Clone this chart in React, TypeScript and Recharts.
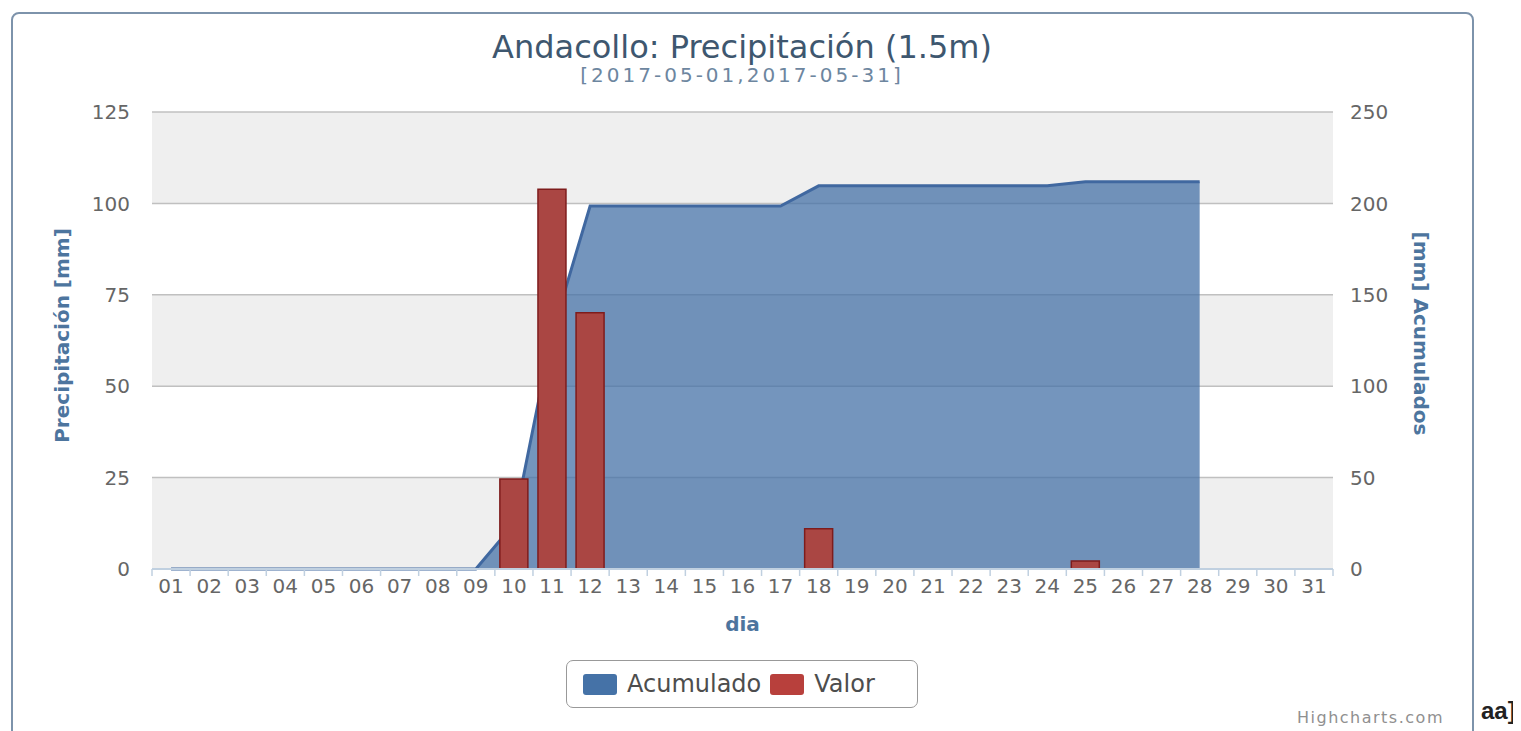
import React from 'react';
import { ComposedChart, Area, Bar, XAxis, YAxis, CartesianGrid } from 'recharts';

const DAYS = [
  '01', '02', '03', '04', '05', '06', '07', '08', '09', '10',
  '11', '12', '13', '14', '15', '16', '17', '18', '19', '20',
  '21', '22', '23', '24', '25', '26', '27', '28', '29', '30', '31'
];

// daily precipitation (mm), null = no bar
const VALOR = [
  null, null, null, null, null, null, null, null, null, 24.6,
  103.9, 70.1, null, null, null, null, null, 11.0, null, null,
  null, null, null, null, 2.2, null, null, null, null, null, null
];

// accumulated precipitation (mm), ends on day 28
const ACUMULADO = [
  0, 0, 0, 0, 0, 0, 0, 0, 0, 24.6,
  128.5, 198.6, 198.6, 198.6, 198.6, 198.6, 198.6, 209.6, 209.6, 209.6,
  209.6, 209.6, 209.6, 209.6, 211.8, 211.8, 211.8, 211.8, null, null, null
];

const LEFT_TICKS = [0, 25, 50, 75, 100, 125];
const RIGHT_TICKS = [0, 50, 100, 150, 200, 250];

const AREA_COLOR = '#4572A7';
const BAR_COLOR = '#AA4643';
const FONT = '"DejaVu Sans", Verdana, sans-serif';

const data = DAYS.map((dia, i) => ({ dia, valor: VALOR[i], acumulado: ACUMULADO[i] }));

function DayTick(props: any) {
  const { x, y, payload, index } = props;
  const half = payload.offset || 19;
  return (
    <g>
      <line x1={x - half} x2={x - half} y1={y} y2={y + 7} stroke="#C0D0E0" strokeWidth={1.5} />
      {index === DAYS.length - 1 && (
        <line x1={x + half} x2={x + half} y1={y} y2={y + 7} stroke="#C0D0E0" strokeWidth={1.5} />
      )}
      <text x={x} y={y + 24} textAnchor="middle" fill="#666" fontSize={20} fontFamily={FONT}>
        {payload.value}
      </text>
    </g>
  );
}

const titleStyle = { fill: '#4d759e', fontSize: 20, fontWeight: 'bold', fontFamily: FONT };

export default function App() {
  return (
    <div
      style={{
        position: 'relative',
        width: 1521,
        height: 731,
        margin: '-8px 0 0 -8px',
        overflow: 'hidden',
        background: '#fff',
        fontFamily: FONT
      }}
    >
      <div
        style={{
          position: 'absolute',
          left: 11,
          top: 12,
          width: 1459,
          height: 760,
          border: '2px solid #7d93ab',
          borderRadius: 8
        }}
      />
      <div style={{ position: 'absolute', left: 0, width: 1484, top: 28, textAlign: 'center', fontSize: 32, color: '#3E576F', lineHeight: '38px' }}>
        Andacollo: Precipitación (1.5m)
      </div>
      <div style={{ position: 'absolute', left: 0, width: 1484, top: 64, textAlign: 'center', fontSize: 20, letterSpacing: 3, color: '#6D869F', lineHeight: '22px' }}>
        [2017-05-01,2017-05-31]
      </div>

      <div style={{ position: 'absolute', left: 0, top: 0 }}>
        <ComposedChart
          width={1521}
          height={731}
          data={data}
          margin={{ top: 112, right: 108, bottom: 122, left: 72 }}
        >
          <CartesianGrid
            yAxisId="left"
            vertical={false}
            stroke="#C0C0C0"
            strokeWidth={1.5}
            horizontalFill={['#EFEFEF', '#FFFFFF']}
            fillOpacity={1}
          />
          <XAxis
            dataKey="dia"
            height={40}
            tickSize={0}
            tickMargin={0}
            interval={0}
            axisLine={{ stroke: '#C0D0E0', strokeWidth: 2 }}
            tickLine={false}
            tick={<DayTick />}
            label={({ viewBox }: any) => (
              <text x={viewBox.x + viewBox.width / 2} y={viewBox.y + 62} textAnchor="middle" style={titleStyle}>
                dia
              </text>
            )}
          />
          <YAxis
            yAxisId="left"
            width={80}
            domain={[0, 125]}
            ticks={LEFT_TICKS}
            axisLine={false}
            tickLine={false}
            tickMargin={16}
            tick={{ fill: '#666', fontSize: 20, fontFamily: FONT }}
            label={({ viewBox }: any) => {
              const cx = viewBox.x - 10;
              const cy = viewBox.y + viewBox.height / 2 - 5;
              return (
                <text x={cx} y={cy} textAnchor="middle" dominantBaseline="central" transform={`rotate(-90 ${cx} ${cy})`} style={titleStyle}>
                  Precipitación [mm]
                </text>
              );
            }}
          />
          <YAxis
            yAxisId="right"
            orientation="right"
            width={80}
            domain={[0, 250]}
            ticks={RIGHT_TICKS}
            axisLine={false}
            tickLine={false}
            tickMargin={11}
            tick={{ fill: '#666', fontSize: 20, fontFamily: FONT, textAnchor: 'start' }}
            label={({ viewBox }: any) => {
              const cx = viewBox.x + 88;
              const cy = viewBox.y + viewBox.height / 2 - 7;
              return (
                <text x={cx} y={cy} textAnchor="middle" dominantBaseline="central" transform={`rotate(90 ${cx} ${cy})`} style={titleStyle}>
                  [mm] Acumulados
                </text>
              );
            }}
          />
          <Area
            yAxisId="right"
            type="linear"
            dataKey="acumulado"
            name="Acumulado"
            stroke="#4068a0"
            strokeWidth={3}
            fill={AREA_COLOR}
            fillOpacity={0.75}
            dot={false}
            activeDot={false}
            isAnimationActive={false}
          />
          <Bar
            yAxisId="left"
            dataKey="valor"
            name="Valor"
            barSize={28}
            fill={BAR_COLOR}
            stroke="#7E1C1C"
            strokeWidth={1.5}
            isAnimationActive={false}
          />
        </ComposedChart>
      </div>

      <div
        style={{
          position: 'absolute',
          left: 566,
          top: 660,
          width: 352,
          height: 48,
          border: '1.5px solid #999',
          borderRadius: 7,
          display: 'flex',
          alignItems: 'center',
          paddingLeft: 16,
          boxSizing: 'border-box',
          fontSize: 24,
          color: '#4d4d4d'
        }}
      >
        <span style={{ display: 'inline-block', width: 34, height: 21, borderRadius: 3, background: AREA_COLOR, marginRight: 10 }} />
        <span style={{ marginRight: 9 }}>Acumulado</span>
        <span style={{ display: 'inline-block', width: 34, height: 21, borderRadius: 3, background: '#B8403C', marginRight: 10 }} />
        <span>Valor</span>
      </div>

      <div style={{ position: 'absolute', left: 1297, top: 708, fontSize: 16, letterSpacing: 1.5, color: '#909090', lineHeight: '20px' }}>
        Highcharts.com
      </div>
      <div style={{ position: 'absolute', left: 1481, top: 697, fontSize: 24, fontWeight: 'bold', fontFamily: '"Liberation Sans", Arial, sans-serif', color: '#222', lineHeight: '28px' }}>
        aa]
      </div>
    </div>
  );
}
